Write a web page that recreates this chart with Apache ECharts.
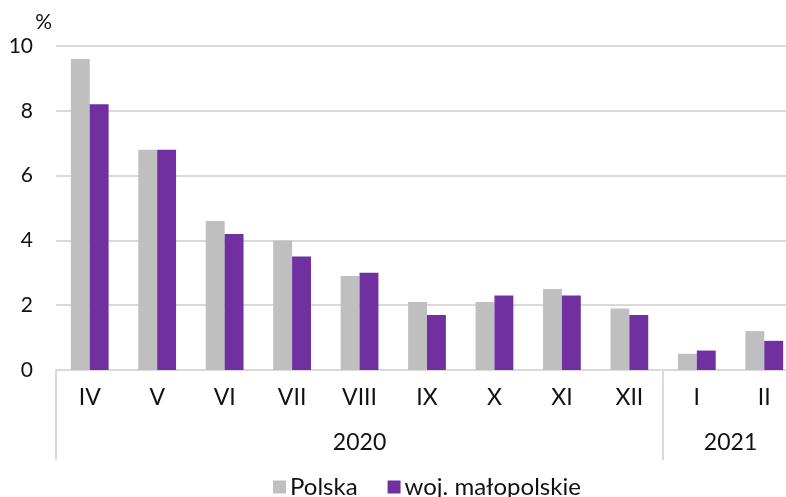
<!DOCTYPE html>
<html>
<head>
<meta charset="utf-8">
<script src="https://cdn.jsdelivr.net/npm/echarts@6/dist/echarts.min.js"></script>
<style>
    html, body { margin: 0; padding: 0; background: #fff; }
    #chart { width: 786px; height: 497px; }
</style>
</head>
<body>
<div id="chart"></div>
<script>
    // miesiące (oś X)
    var months = ['IV', 'V', 'VI', 'VII', 'VIII', 'IX', 'X', 'XI', 'XII', 'I', 'II'];
    // lata - pozycja środka grupy i granice grup
    var years = ['2020', '2021'];
    var yearCenters = [4.5, 10];
    var yearBounds = [0, 9, 11];
    // wartości w %
    var polska = [9.6, 6.8, 4.6, 4.0, 2.9, 2.1, 2.1, 2.5, 1.9, 0.5, 1.2];
    var malopolskie = [8.2, 6.8, 4.2, 3.5, 3.0, 1.7, 2.3, 2.3, 1.7, 0.6, 0.9];

    var font = 'Lato';
    var lineColor = '#D9D9D9';
    var textColor = '#111';

    var myChart = echarts.init(document.getElementById('chart'));
    var option = {
        animation: false,
        textStyle: {fontFamily: font},
        grid: {
            left: 56,
            width: 742, //wykres wychodzi poza prawą krawędź
            top: 46,
            bottom: 127,
            containLabel: false,
            outerBoundsMode: 'none'
        },
        legend: {
            left: 268,
            top: 470,
            icon: 'rect',
            itemWidth: 13,
            itemHeight: 13,
            itemGap: 30,
            textStyle: {fontSize: 24, color: textColor, fontFamily: font, padding: [0, 0, 0, -1]},
            data: ['Polska', 'woj. małopolskie']
        },
        xAxis: [
            {
                type: 'category',
                data: months,
                axisLine: {lineStyle: {color: lineColor, width: 2}},
                axisTick: {show: false},
                axisLabel: {
                    interval: 0,
                    margin: 16,
                    fontSize: 23,
                    color: textColor
                }
            },
            {
                //druga oś - lata
                type: 'value',
                min: 0,
                max: 11,
                position: 'bottom',
                axisLine: {show: false},
                splitLine: {show: false},
                axisTick: {
                    show: true,
                    customValues: yearBounds,
                    length: 90,
                    lineStyle: {color: lineColor, width: 2}
                },
                axisLabel: {
                    customValues: yearCenters,
                    margin: 61,
                    fontSize: 23,
                    color: textColor,
                    formatter: function (v) {
                        var idx = yearCenters.indexOf(v);
                        return idx >= 0 ? years[idx] : '';
                    }
                }
            }
        ],
        yAxis: {
            type: 'value',
            min: 0,
            max: 10,
            interval: 2,
            name: '%',
            nameLocation: 'end',
            nameGap: 13,
            nameTextStyle: {fontSize: 21, color: textColor, align: 'right', padding: [0, 4, 0, 0]},
            axisLine: {show: false},
            axisTick: {show: false},
            splitLine: {lineStyle: {color: lineColor, width: 2}},
            axisLabel: {margin: 23, fontSize: 21, color: textColor}
        },
        series: [
            {
                name: 'Polska',
                type: 'bar',
                barWidth: '28%',
                barGap: '0%',
                itemStyle: {color: '#BFBFBF'},
                data: polska
            },
            {
                name: 'woj. małopolskie',
                type: 'bar',
                barWidth: '28%',
                barGap: '0%',
                itemStyle: {color: '#7030A0'},
                data: malopolskie
            }
        ]
    };
    myChart.setOption(option);
</script>
</body>
</html>
